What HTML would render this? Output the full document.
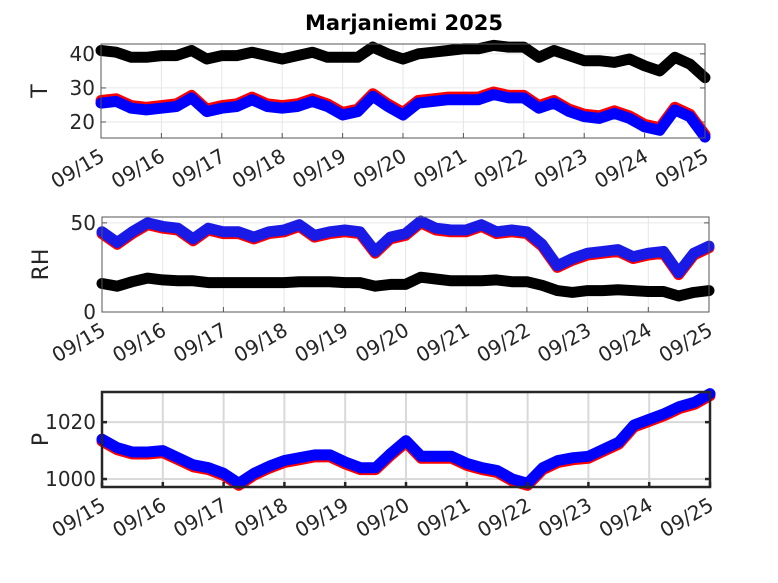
<!DOCTYPE html>
<html><head><meta charset="utf-8"><style>
body{margin:0;background:#fff;}
svg{display:block;font-family:"DejaVu Sans","Liberation Sans",sans-serif;}
</style></head><body>
<svg id="fig" width="778" height="583" viewBox="0 0 778 583" xmlns="http://www.w3.org/2000/svg">
<rect width="778" height="583" fill="#fff"/>
<text x="404" y="30" text-anchor="middle" font-size="21" font-weight="bold" fill="#000">Marjaniemi 2025</text>
</svg>
<script>
const dayLabels=["09/15","09/16","09/17","09/18","09/19","09/20","09/21","09/22","09/23","09/24","09/25"];
const tBlack=[41,40.5,39,39,39.5,39.5,41,38.5,39.5,39.5,40.5,39.5,38.5,39.5,40.5,39,39,39,42,40,38.5,40,40.5,41,41.5,41.5,42.5,42,42,39,41,39.5,38,38,37.5,38.5,36.5,35,39,37,33];
const tBlue=[26,26.5,24.5,24,24.5,25,27.5,23.5,24.5,25,27,25,24.5,25,26.5,25,22.5,23.5,28,25,22.5,26,26.5,27,27,27,28.5,27.5,27.5,24.5,26,23.5,22,21.5,23,21.5,19,18,24,22,16];
const tRed=[26.3,26.8,24.8,24.3,24.8,25.3,27.8,23.8,24.8,25.3,27.3,25.3,24.8,25.3,26.8,25.3,22.8,23.8,28.3,25.3,22.8,26.3,26.8,27.3,27.3,27.3,28.8,27.8,27.8,24.8,26.3,23.8,22.3,21.8,23.3,21.8,19.3,18.3,24.3,22.3,16.3];
const rhBlack=[16,14.5,17,19,18,17.5,17.5,16.5,16.5,16.5,16.5,16.5,16.5,17,17,17,16.5,16.5,14.5,15.5,15.5,19.5,18.5,17.5,17.5,17.5,18,17,17,15,12,11,12,12,12.5,12,11.5,11.5,9,11,12];
const rhBlue=[45,39,45,50,48,47,41,47,45,45,42,45,46,49,43,45,46,45,34,42,44,51,47,46,46,49,45,46,45,38,26,30,33,34,35,31,33,34,22,33,37];
const rhRed=[44,38,44,49,47,46,40,46,44,44,41,44,45,48,42,44,45,44,33,41,43,50,46,45,45,48,44,45,44,37,25,29,32,33,34,30,32,33,21,32,36];
const pBlue=[1014,1011,1009.5,1009.5,1010,1007.5,1005,1004,1002,998.5,1002,1004.5,1006.5,1007.5,1008.5,1008.5,1006,1004,1004,1009,1013.5,1008,1008,1008,1005.5,1004,1003,1000,998.5,1004,1006.5,1007.5,1008,1010.5,1013,1019,1021,1023,1025.5,1027,1030];
const pRed=[1013.3,1010.3,1008.8,1008.8,1009.3,1006.8,1004.3,1003.3,1001.3,997.8,1001.3,1003.8,1005.8,1006.8,1007.8,1007.8,1005.3,1003.3,1003.3,1008.3,1012.8,1007.3,1007.3,1007.3,1004.8,1003.3,1002.3,999.3,997.8,1003.3,1005.8,1006.8,1007.3,1009.8,1012.3,1018.3,1020.3,1022.3,1024.8,1026.3,1029.3];
const tTicks=[20,30,40], rhTicks=[0,50], pTicks=[1000,1020];
const NS="http://www.w3.org/2000/svg";
const svg=document.getElementById('fig');
function mk(tag,attrs,parent){const e=document.createElementNS(NS,tag);for(const k in attrs)e.setAttribute(k,attrs[k]);(parent||svg).appendChild(e);return e;}
function panel(name,x0,x1,y0,y1,ymin,ymax,ticks,label,series,grid,frame,fw){
  const g=mk('g',{});
  
  
  const X=d=>x0+(x1-x0)*d/10, Y=v=>y1-(y1-y0)*(v-ymin)/(ymax-ymin);
  mk('rect',{x:x0,y:y0,width:x1-x0,height:y1-y0,fill:'#fff'},g);
  for(let i=0;i<dayLabels.length;i++){
    const l=mk('line',{x1:X(i),x2:X(i),y1:y0,y2:y1,stroke:grid,'stroke-width':fw>1?2:1},g);
    
    
  }
  ticks.forEach(t=>{
    const l=mk('line',{x1:x0,x2:x1,y1:Y(t),y2:Y(t),stroke:grid,'stroke-width':fw>1?2:1},g);
    
    
    const tx=mk('text',{x:x0-6,y:Y(t)+7,'text-anchor':'end','font-size':20,fill:'#262626'},g);
    tx.textContent=t;
    
    
    mk('line',{x1:x0,x2:x0+5,y1:Y(t),y2:Y(t),stroke:frame,'stroke-width':fw},g);
    mk('line',{x1:x1,x2:x1-5,y1:Y(t),y2:Y(t),stroke:frame,'stroke-width':fw},g);
  });
  series.forEach(s=>{
    const pts=s.data.map((v,i)=>X(i*0.25).toFixed(1)+','+(Y(v)+s.dy).toFixed(1)).join(' ');
    const p=mk('polyline',{points:pts,fill:'none',stroke:s.color,'stroke-width':s.w,'stroke-linejoin':'round','stroke-linecap':'round'},g);
    
    
  });
  const fr=mk('rect',{x:x0,y:y0,width:x1-x0,height:y1-y0,fill:'none',stroke:frame,'stroke-width':fw},g);
  
  
  dayLabels.forEach((d,i)=>{
    mk('line',{x1:X(i),x2:X(i),y1:y1,y2:y1-5,stroke:frame,'stroke-width':fw},g);
    const tx=mk('text',{x:X(i)+5,y:y1+22,'text-anchor':'end','font-size':20,fill:'#262626',transform:`rotate(-30 ${X(i)+5} ${y1+22})`},g);
    tx.textContent=d;
    
    
  });
  const yl=mk('text',{x:0,y:0,'text-anchor':'middle','font-size':22,fill:'#262626',transform:`translate(${x0-54},${(y0+y1)/2}) rotate(-90)`},g);
  yl.textContent=label;
  
  
}
panel('temperature',101,705,44,138,15.3,42.9,tTicks,'T',[
 {name:'t-black-series',data:tBlack,color:'#000',w:11,dy:0},
 {name:'t-red-series',data:tRed,color:'#f00',w:11,dy:0},
 {name:'t-blue-series',data:tBlue,color:'#00f',w:11,dy:1.5}],'#e6e6e6','#555',1);
panel('humidity',102,709,217,312,0,53.3,rhTicks,'RH',[
 {name:'rh-black-series',data:rhBlack,color:'#000',w:11,dy:0},
 {name:'rh-red-series',data:rhRed,color:'#f00',w:11,dy:0},
 {name:'rh-blue-series',data:rhBlue,color:'#1a1ae6',w:11,dy:0}],'#e6e6e6','#555',1);
panel('pressure',102,710,392,487,997.2,1030.6,pTicks,'P',[
 {name:'p-red-series',data:pRed,color:'#f00',w:11,dy:0},
 {name:'p-blue-series',data:pBlue,color:'#00f',w:11,dy:0}],'#d9d9d9','#262626',2.5);
</script>
</body></html>
